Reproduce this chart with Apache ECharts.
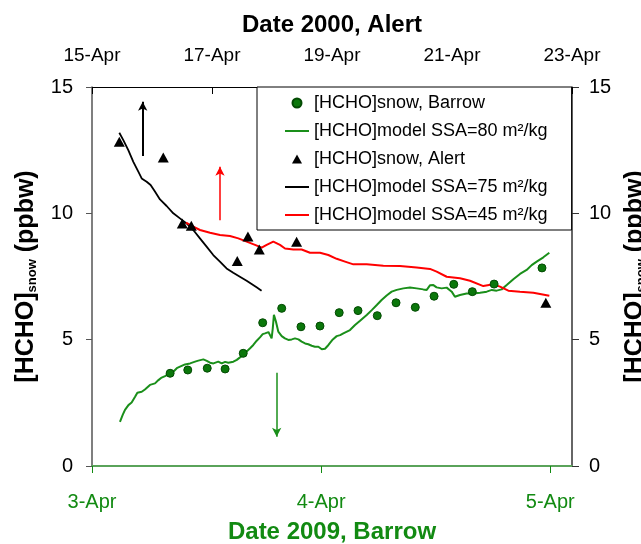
<!DOCTYPE html>
<html>
<head>
<meta charset="utf-8">
<script src="https://cdn.jsdelivr.net/npm/echarts@6/dist/echarts.min.js"></script>
<style>
  html, body { margin: 0; padding: 0; background: #fff; }
  #chart { width: 641px; height: 544px; }
</style>
</head>
<body>
<div id="chart"></div>
<script>
// Barrow 2009 (bottom axis, days after 3-Apr 00:00)
const barrowDays = [0.341, 0.418, 0.503, 0.581, 0.660, 0.745, 0.828, 0.912, 0.995, 1.079, 1.161, 1.245, 1.327, 1.411, 1.493, 1.579, 1.660, 1.755, 1.964];
const barrowSnow = [3.67, 3.80, 3.87, 3.84, 4.46, 5.67, 6.24, 5.51, 5.54, 6.07, 6.15, 5.95, 6.46, 6.28, 6.72, 7.19, 6.90, 7.20, 7.84];

const model80Days = [0.122, 0.134, 0.144, 0.159, 0.173, 0.188, 0.198, 0.217, 0.231, 0.253, 0.275, 0.290, 0.304, 0.319, 0.341, 0.355, 0.370, 0.384, 0.406, 0.428, 0.450, 0.464, 0.486, 0.501, 0.515, 0.530, 0.551, 0.566, 0.581, 0.595, 0.617, 0.632, 0.646, 0.661, 0.675, 0.690, 0.704, 0.719, 0.733, 0.745, 0.755, 0.770, 0.777, 0.784, 0.789, 0.794, 0.803, 0.813, 0.828, 0.842, 0.857, 0.872, 0.886, 0.901, 0.915, 0.930, 0.944, 0.959, 0.973, 0.988, 1.003, 1.017, 1.032, 1.051, 1.068, 1.083, 1.097, 1.126, 1.148, 1.170, 1.199, 1.221, 1.243, 1.264, 1.286, 1.308, 1.330, 1.359, 1.388, 1.417, 1.446, 1.461, 1.475, 1.490, 1.504, 1.526, 1.548, 1.570, 1.584, 1.606, 1.635, 1.665, 1.694, 1.723, 1.745, 1.766, 1.788, 1.810, 1.839, 1.868, 1.897, 1.919, 1.941, 1.970, 1.996];
const model80 = [1.75, 2.02, 2.22, 2.41, 2.51, 2.74, 2.90, 2.94, 3.03, 3.21, 3.27, 3.40, 3.50, 3.56, 3.69, 3.73, 3.87, 3.93, 4.02, 4.06, 4.13, 4.17, 4.22, 4.16, 4.09, 4.06, 4.13, 4.06, 4.12, 4.09, 4.13, 4.20, 4.30, 4.39, 4.53, 4.66, 4.79, 4.96, 5.09, 5.22, 5.25, 5.30, 5.18, 5.05, 5.45, 5.98, 5.71, 5.32, 5.14, 5.05, 4.99, 5.01, 5.05, 5.01, 4.92, 4.85, 4.82, 4.76, 4.72, 4.72, 4.62, 4.64, 4.79, 5.01, 5.14, 5.18, 5.25, 5.38, 5.58, 5.75, 5.98, 6.17, 6.37, 6.57, 6.75, 6.90, 6.97, 7.03, 7.06, 7.03, 6.99, 6.97, 7.15, 7.16, 7.07, 7.03, 7.06, 6.90, 6.70, 6.77, 6.83, 6.83, 6.86, 6.90, 6.97, 6.94, 6.99, 7.16, 7.39, 7.60, 7.76, 7.95, 8.09, 8.26, 8.44];

// Alert 2000 (top axis, days after 15-Apr 00:00)
const alertDays = [0.455, 1.188, 1.505, 1.655, 2.421, 2.599, 2.788, 3.410, 7.564];
const alertSnow = [12.83, 12.21, 9.60, 9.51, 8.11, 9.08, 8.57, 8.88, 6.46];

const model75Days = [0.455, 0.522, 0.605, 0.689, 0.772, 0.828, 0.911, 0.977, 1.049, 1.133, 1.244, 1.355, 1.466, 1.577, 1.688, 1.799, 1.910, 2.021, 2.132, 2.243, 2.354, 2.465, 2.577, 2.660, 2.743, 2.826];
const model75 = [13.19, 12.90, 12.50, 12.04, 11.65, 11.38, 11.25, 11.12, 10.86, 10.55, 10.29, 10.00, 9.80, 9.60, 9.34, 9.01, 8.68, 8.35, 8.09, 7.82, 7.65, 7.49, 7.33, 7.20, 7.07, 6.94];

const model45Days = [1.567, 1.689, 1.800, 1.967, 2.133, 2.300, 2.439, 2.578, 2.717, 2.828, 2.911, 3.022, 3.133, 3.217, 3.356, 3.494, 3.633, 3.800, 3.939, 4.078, 4.217, 4.356, 4.578, 4.856, 5.133, 5.411, 5.633, 5.744, 5.911, 6.133, 6.300, 6.522, 6.689, 6.800, 6.939, 7.133, 7.356, 7.622];
const model45 = [9.63, 9.47, 9.34, 9.23, 9.14, 9.10, 9.01, 8.88, 8.75, 8.64, 8.75, 8.88, 8.75, 8.61, 8.57, 8.57, 8.44, 8.44, 8.35, 8.20, 8.09, 7.98, 7.98, 7.93, 7.92, 7.86, 7.80, 7.69, 7.49, 7.43, 7.33, 7.12, 7.19, 7.10, 6.94, 6.90, 6.86, 6.74];

// arrows: [day, from, to]
const arrowAlertBlack = [0.845, 12.27, 14.42];
const arrowAlertRed = [2.133, 9.73, 11.84];
const arrowBarrowGreen = [0.806, 3.69, 1.16];

const barrowTicks = [0, 1, 2];
const alertFirstDay = 15;
const barrowFirstDay = 3;

const legendNames = ['[HCHO]snow, Barrow', '[HCHO]model SSA=80 m²/kg', '[HCHO]snow, Alert', '[HCHO]model SSA=75 m²/kg', '[HCHO]model SSA=45 m²/kg'];

const FONT = "'Liberation Sans', Arial, sans-serif";
const GREEN = '#128a12';
const LINE_ICON = 'path://M0,0 L24,0 L24,2 L0,2 Z';
const TRI_ICON = 'path://M5,0 L10,9 L0,9 Z';

function zip(xs, ys) {
  return xs.map((x, i) => [x, ys[i]]);
}

function arrow(a, color, width) {
  return {
    silent: true,
    symbol: ['none', 'arrow'],
    symbolSize: [7, 9],
    label: { show: false },
    lineStyle: { color: color, width: width, type: 'solid' },
    animation: false,
    data: [[{ coord: [a[0], a[1]] }, { coord: [a[0], a[2]] }]]
  };
}

const yName = '{a|[HCHO]}{s|snow}{a| (ppbw)}';
const yNameStyle = {
  rich: {
    a: { fontFamily: FONT, fontSize: 25, fontWeight: 'bold', color: '#000', lineHeight: 26 },
    s: { fontFamily: FONT, fontSize: 13, fontWeight: 'bold', color: '#000', lineHeight: 10, verticalAlign: 'bottom' }
  }
};

let myChart = echarts.init(document.getElementById('chart'));
let option = {
  animation: false,
  backgroundColor: '#fff',
  textStyle: { fontFamily: FONT },
  grid: { left: 92, right: 69, top: 87, bottom: 78, containLabel: false, outerBoundsMode: 'none' },
  legend: {
    orient: 'vertical',
    left: 257,
    top: 87,
    padding: [7, 24, 6, 28],
    itemGap: 10,
    itemWidth: 24,
    itemHeight: 9,
    borderColor: '#000',
    borderWidth: 1,
    borderRadius: 0,
    backgroundColor: '#fff',
    selectedMode: false,
    textStyle: { fontFamily: FONT, fontSize: 18, color: '#000', lineHeight: 18 },
    data: [
      { name: legendNames[0], icon: 'circle' },
      { name: legendNames[1], icon: LINE_ICON },
      { name: legendNames[2], icon: TRI_ICON },
      { name: legendNames[3], icon: LINE_ICON },
      { name: legendNames[4], icon: LINE_ICON }
    ]
  },
  xAxis: [
    {
      type: 'value',
      position: 'bottom',
      min: 0,
      max: 2.095,
      interval: 1,
      name: 'Date 2009, Barrow',
      nameLocation: 'middle',
      nameGap: 54,
      nameTextStyle: { fontFamily: FONT, fontSize: 24, fontWeight: 'bold', color: GREEN },
      axisLine: { show: true, onZero: false, lineStyle: { color: '#5aa35a', width: 2 } },
      axisTick: { show: true, inside: false, length: 7, lineStyle: { color: GREEN }, customValues: barrowTicks },
      axisLabel: {
        fontFamily: FONT, fontSize: 20, color: GREEN, margin: 26,
        customValues: barrowTicks,
        formatter: v => Number.isInteger(v) ? (barrowFirstDay + v) + '-Apr' : ''
      },
      splitLine: { show: false }
    },
    {
      type: 'value',
      position: 'top',
      min: 0,
      max: 8,
      interval: 2,
      name: 'Date 2000, Alert',
      nameLocation: 'middle',
      nameGap: 50,
      nameTextStyle: { fontFamily: FONT, fontSize: 24, fontWeight: 'bold', color: '#000' },
      axisLine: { show: true, onZero: false, lineStyle: { color: '#000', width: 1 } },
      axisTick: { show: true, inside: true, length: 7, lineStyle: { color: '#000' } },
      axisLabel: {
        fontFamily: FONT, fontSize: 19, color: '#000', margin: 22,
        formatter: v => (alertFirstDay + v) + '-Apr'
      },
      splitLine: { show: false }
    }
  ],
  yAxis: [
    {
      type: 'value',
      position: 'left',
      min: 0,
      max: 15,
      interval: 5,
      name: yName,
      nameLocation: 'middle',
      nameRotate: 90,
      nameGap: 53,
      nameTextStyle: yNameStyle,
      axisLine: { show: true, onZero: false, lineStyle: { color: '#555', width: 1.5 } },
      axisTick: { show: true, inside: false, length: 6, lineStyle: { color: '#555' } },
      axisLabel: { fontFamily: FONT, fontSize: 20, color: '#000', margin: 19 },
      splitLine: { show: false }
    },
    {
      type: 'value',
      position: 'right',
      min: 0,
      max: 15,
      interval: 5,
      name: yName,
      nameLocation: 'middle',
      nameRotate: 90,
      nameGap: 46,
      nameTextStyle: yNameStyle,
      axisLine: { show: true, onZero: false, lineStyle: { color: '#333', width: 1.5 } },
      axisTick: { show: true, inside: false, length: 7, lineStyle: { color: '#333' } },
      axisLabel: { fontFamily: FONT, fontSize: 20, color: '#000', margin: 17 },
      splitLine: { show: false }
    }
  ],
  series: [
    {
      name: legendNames[0],
      type: 'scatter',
      xAxisIndex: 0,
      yAxisIndex: 0,
      symbol: 'circle',
      symbolSize: 8,
      z: 5,
      itemStyle: { color: '#0b770b', borderColor: '#034a03', borderWidth: 1, opacity: 1 },
      data: zip(barrowDays, barrowSnow)
    },
    {
      name: legendNames[1],
      type: 'line',
      xAxisIndex: 0,
      yAxisIndex: 0,
      symbol: 'none',
      showSymbol: false,
      z: 3,
      lineStyle: { color: '#1a8f1a', width: 2 },
      itemStyle: { color: '#1a8f1a' },
      markLine: arrow(arrowBarrowGreen, '#1a8f1a', 1.5),
      data: zip(model80Days, model80)
    },
    {
      name: legendNames[2],
      type: 'scatter',
      xAxisIndex: 1,
      yAxisIndex: 0,
      symbol: 'triangle',
      symbolSize: [11, 10],
      symbolKeepAspect: true,
      z: 5,
      itemStyle: { color: '#000', opacity: 1 },
      data: zip(alertDays, alertSnow)
    },
    {
      name: legendNames[3],
      type: 'line',
      xAxisIndex: 1,
      yAxisIndex: 0,
      symbol: 'none',
      showSymbol: false,
      z: 3,
      lineStyle: { color: '#000', width: 1.8 },
      itemStyle: { color: '#000' },
      markLine: arrow(arrowAlertBlack, '#000', 2),
      data: zip(model75Days, model75)
    },
    {
      name: legendNames[4],
      type: 'line',
      xAxisIndex: 1,
      yAxisIndex: 0,
      symbol: 'none',
      showSymbol: false,
      z: 3,
      lineStyle: { color: '#ff0000', width: 2 },
      itemStyle: { color: '#ff0000' },
      markLine: arrow(arrowAlertRed, '#ff0000', 1.5),
      data: zip(model45Days, model45)
    }
  ]
};
myChart.setOption(option);
</script>
</body>
</html>
